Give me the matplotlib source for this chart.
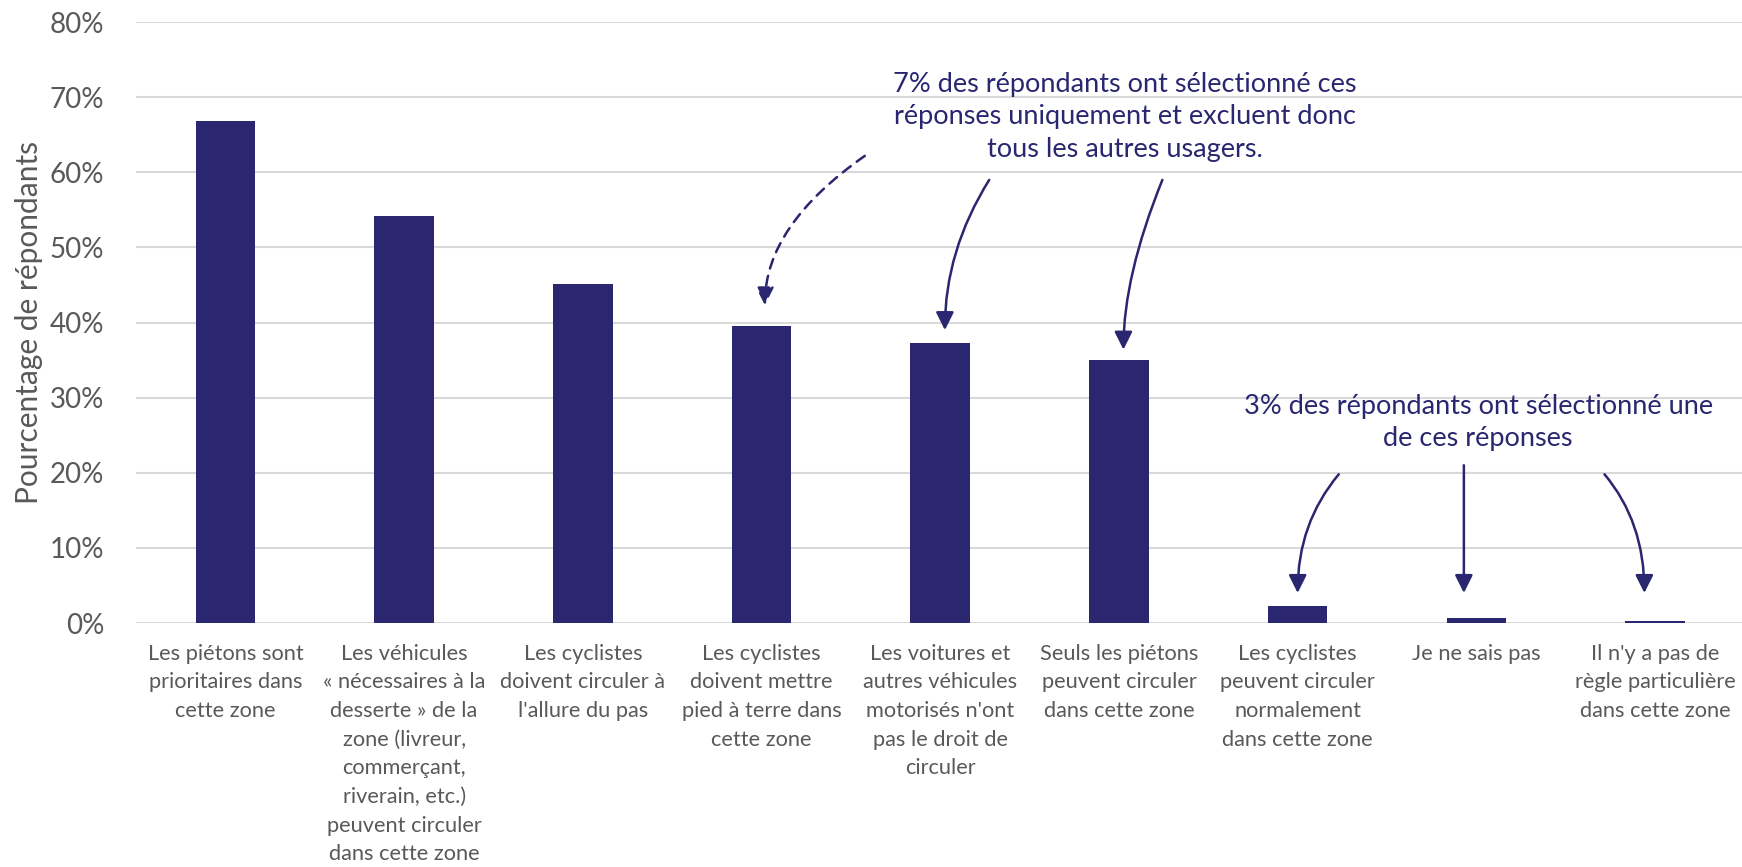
import matplotlib
matplotlib.use("Agg")
import matplotlib.pyplot as plt
from matplotlib.ticker import FuncFormatter

plt.rcParams['font.family'] = ['Lato', 'DejaVu Sans']

categories = [
    "Les piétons sont\nprioritaires dans\ncette zone",
    "Les véhicules\n« nécessaires à la\ndesserte » de la\nzone (livreur,\ncommerçant,\nriverain, etc.)\npeuvent circuler\ndans cette zone",
    "Les cyclistes\ndoivent circuler à\nl'allure du pas",
    "Les cyclistes\ndoivent mettre\npied à terre dans\ncette zone",
    "Les voitures et\nautres véhicules\nmotorisés n'ont\npas le droit de\ncirculer",
    "Seuls les piétons\npeuvent circuler\ndans cette zone",
    "Les cyclistes\npeuvent circuler\nnormalement\ndans cette zone",
    "Je ne sais pas",
    "Il n'y a pas de\nrègle particulière\ndans cette zone",
]
values = [66.8, 54.2, 45.2, 39.5, 37.3, 35.0, 2.2, 0.6, 0.3]
yticks = [0, 10, 20, 30, 40, 50, 60, 70, 80]

note1 = "7% des répondants ont sélectionné ces\nréponses uniquement et excluent donc\ntous les autres usagers."
note2 = "3% des répondants ont sélectionné une\nde ces réponses"

navy = '#2a2670'
gray = '#595959'

fig = plt.figure(figsize=(17.42, 8.67), dpi=100)
ax = fig.add_axes([0.0781, 0.28143, 0.9233, 0.693])

x = list(range(len(values)))
ax.bar(x, values, width=0.333, color=navy, zorder=3)
ax.set_xlim(-0.5, len(values) - 0.5)
ax.set_ylim(0, 80)
ax.set_yticks(yticks)
ax.yaxis.set_major_formatter(FuncFormatter(lambda v, p: f"{v:.0f}%"))
ax.grid(axis='y', color='#d9d9d9', lw=1.5, zorder=0)
for s in ax.spines.values():
    s.set_visible(False)
ax.tick_params(axis='both', length=0)
ax.tick_params(axis='y', labelsize=20, labelcolor=gray, pad=23)
ax.set_xticks(x)
ax.set_xticklabels(categories, fontsize=15.7, color=gray, linespacing=1.54, va='top')
ax.tick_params(axis='x', pad=15)
ax.set_ylabel("Pourcentage de répondants", fontsize=21.5, color=gray, labelpad=5)

ax.text(5.034, 67.4, note1, ha='center', va='center', fontsize=19.5, color=navy, linespacing=1.375)
ax.text(7.01, 26.7, note2, ha='center', va='center', fontsize=19.5, color=navy, linespacing=1.375)

arrow_kw = dict(arrowstyle='-|>', color=navy, lw=1.8, mutation_scale=27, shrinkA=0, shrinkB=0)

# dashed arrow
ax.annotate("", xy=(3.019, 42.3), xytext=(3.578, 62.2),
            arrowprops=dict(arrow_kw, linestyle=(0, (4, 3)),
                            connectionstyle="angle3,angleA=35,angleB=90"))
ax.annotate("", xy=(4.026, 39.0), xytext=(4.274, 59.0),
            arrowprops=dict(arrow_kw, connectionstyle="angle3,angleA=58,angleB=90"))
ax.annotate("", xy=(5.025, 36.4), xytext=(5.243, 59.0),
            arrowprops=dict(arrow_kw, connectionstyle="angle3,angleA=68,angleB=90"))
ax.annotate("", xy=(6.0, 4.0), xytext=(6.23, 19.8),
            arrowprops=dict(arrow_kw, connectionstyle="angle3,angleA=50,angleB=90"))
ax.annotate("", xy=(6.93, 4.0), xytext=(6.93, 21.0),
            arrowprops=dict(arrow_kw, connectionstyle="arc3,rad=0"))
ax.annotate("", xy=(7.94, 4.0), xytext=(7.717, 19.8),
            arrowprops=dict(arrow_kw, connectionstyle="angle3,angleA=-50,angleB=90"))

fig.savefig("out.png", dpi=100)
